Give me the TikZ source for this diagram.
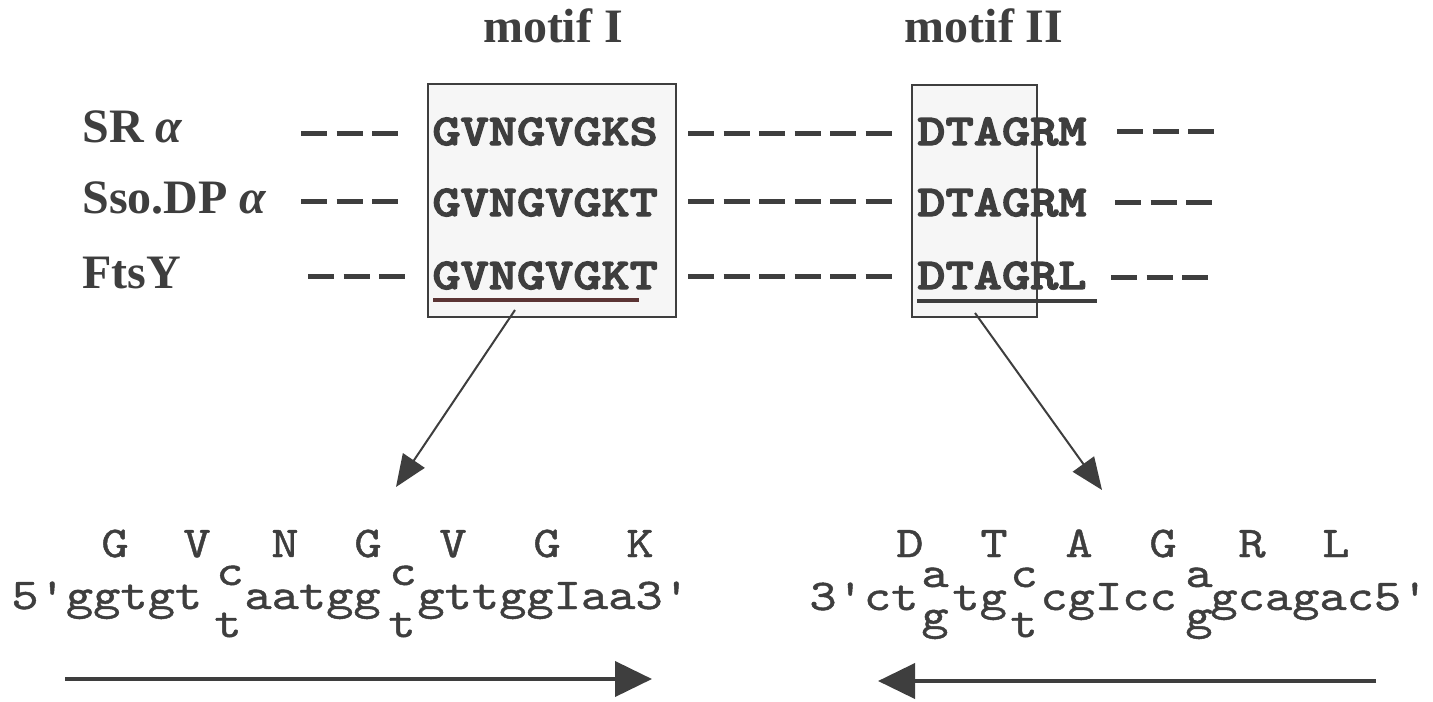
\documentclass[tikz,border=0pt]{standalone}
\usepackage{fontspec}
\setmainfont{Liberation Serif}
\newfontfamily\motiffont{lmmonolt10-bold.otf}[FakeStretch=1.22, FakeBold=3]
\newfontfamily\seqfont{lmmono10-regular.otf}[FakeStretch=1.18, FakeBold=1]
\usetikzlibrary{arrows.meta}
\definecolor{ink}{HTML}{3E3E3E}
\definecolor{boxfill}{HTML}{F6F6F6}
\definecolor{ulred}{HTML}{5B3434}

\begin{document}
\begin{tikzpicture}[x=0.5pt, y=-0.5pt,
    every node/.style={inner sep=0pt, text=ink},
    protein/.style={anchor=base west, font=\fontsize{24}{24}\selectfont\bfseries},
    heading/.style={anchor=base, font=\fontsize{24}{24}\selectfont\bfseries},
    motif/.style={anchor=base west, font=\fontsize{22}{24}\selectfont\motiffont},
    aa/.style={anchor=base, font=\fontsize{22}{24}\selectfont\seqfont},
    nt/.style={anchor=base west, font=\fontsize{22}{24}\selectfont\seqfont},
    wobble/.style={anchor=base, font=\fontsize{22}{24}\selectfont\seqfont},
    gaps/.style={draw=ink, line width=2.5pt, dash pattern=on 13pt off 4.75pt},
    motifbox/.style={draw=ink, fill=boxfill, line width=1pt},
    uline/.style={draw=ulred, line width=2pt},
    link/.style={draw=ink, line width=1pt, -{Triangle[length=16pt, width=13pt]}},
    strand/.style={draw=ink, line width=2pt, -{Triangle[length=18.5pt, width=17.5pt]}}]
    \useasboundingbox (0,0) rectangle (1433,701);

    \draw[motifbox] (428,84) rectangle (676,317);
    \draw[motifbox] (912,85) rectangle (1037,317);

    \node[heading] (tI) at (553,43) {motif I};
    \node[heading] (tII) at (984,43) {motif II};

    \node[protein] (pA) at (82,142) {SR \textit{α}};
    \node[protein] (pB) at (82,213) {Sso.DP \textit{α}};
    \node[protein] (pC) at (82,288) {FtsY};

    \node[motif] (mIa) at (432,145) {GVNGVGKS};
    \node[motif] (mIb) at (432,216) {GVNGVGKT};
    \node[motif] (mIc) at (432,289) {GVNGVGKT};
    \node[motif] (mIIa) at (917,145) {DTAGRM};
    \node[motif] (mIIb) at (917,216) {DTAGRM};
    \node[motif] (mIIc) at (917,289) {DTAGRL};
    \draw[uline] (433,300) -- (639,300);
    \draw[uline, draw=ink] (917,301) -- (1097,301);

    \foreach \y/\l in {133/301, 201/301, 276/308} \draw[gaps] (\l,\y) -- ++(97,0);
    \foreach \y in {133, 201, 276} \draw[gaps] (688,\y) -- ++(203.5,0);
    \foreach \y/\l in {131/1117, 202/1115, 277/1111} \draw[gaps] (\l,\y) -- ++(97,0);

    \coordinate (fromI) at (515,310);
    \coordinate (toI) at (396,487);
    \coordinate (fromII) at (975,313);
    \coordinate (toII) at (1102,490);
    \draw[link] (fromI) -- (toI);
    \draw[link] (fromII) -- (toII);

    \foreach \x/\a [count=\i] in {115/G, 197/V, 285/N, 368/G, 453/V, 547/G, 640/K}
        \node[aa] (aL\i) at (\x,557) {\a};
    \foreach \x/\a [count=\i] in {910/D, 994/T, 1079/A, 1163/G, 1252/R, 1336/L}
        \node[aa] (aR\i) at (\x,557) {\a};

    \node[nt] (l1) at (11,609) {5'ggtgt};
    \node[wobble] (w1c) at (230,585) {c};
    \node[wobble] (w1t) at (228,637) {t};
    \node[nt] (l2) at (244,609) {aatgg};
    \node[wobble] (w2c) at (403,585) {c};
    \node[wobble] (w2t) at (402,637) {t};
    \node[nt] (l3) at (417,609) {gttggIaa3'};

    \node[nt] (r1) at (809,610) {3'ct};
    \node[wobble] (w3a) at (935,587) {a};
    \node[wobble] (w3g) at (935,629) {g};
    \node[nt] (r2) at (952,610) {tg};
    \node[wobble] (w4c) at (1024,587) {c};
    \node[wobble] (w4t) at (1024,637) {t};
    \node[nt] (r3) at (1040,610) {cgIcc};
    \node[wobble] (w5a) at (1199,587) {a};
    \node[wobble] (w5g) at (1199,629) {g};
    \node[nt] (r4) at (1210,610) {gcagac5'};

    \coordinate (s5) at (65,679);
    \coordinate (s3) at (652,679);
    \coordinate (a5) at (1376,681);
    \coordinate (a3) at (878,681);
    \draw[strand] (s5) -- (s3);
    \draw[strand] (a5) -- (a3);
\end{tikzpicture}
\end{document}
